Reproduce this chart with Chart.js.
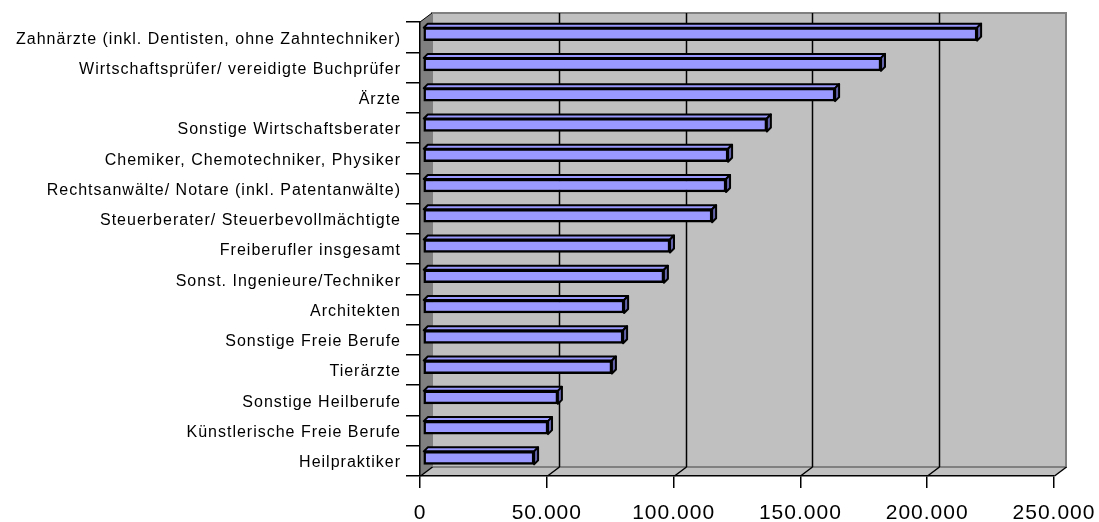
<!DOCTYPE html>
<html>
<head>
<meta charset="utf-8">
<script src="https://cdn.jsdelivr.net/npm/chart.js@4/dist/chart.umd.min.js"></script>
<style>
  html, body { margin: 0; padding: 0; background: #fff; }
  #wrap { width: 1099px; height: 522px; position: relative; }
</style>
</head>
<body>
<div id="wrap"><canvas id="chart"></canvas></div>
<script>
const categories = [
  "Zahnärzte (inkl. Dentisten, ohne Zahntechniker)",
  "Wirtschaftsprüfer/ vereidigte Buchprüfer",
  "Ärzte",
  "Sonstige Wirtschaftsberater",
  "Chemiker, Chemotechniker, Physiker",
  "Rechtsanwälte/ Notare (inkl. Patentanwälte)",
  "Steuerberater/ Steuerbevollmächtigte",
  "Freiberufler insgesamt",
  "Sonst. Ingenieure/Techniker",
  "Architekten",
  "Sonstige Freie Berufe",
  "Tierärzte",
  "Sonstige Heilberufe",
  "Künstlerische Freie Berufe",
  "Heilpraktiker"
];
const values = [
  218500, 180600, 162500, 135600, 120300, 119500, 114000, 97400,
  95000, 79300, 78900, 74500, 53200, 49300, 43800
];
const tickValues = [0, 50000, 100000, 150000, 200000, 250000];

// 3D look: back wall offset and bar depth
const DX = 12, DY = 9;
const BAR_DX = 4, BAR_DY = 4;
const SHIFT_X = 3, SHIFT_Y = -3;

const fmt = v => String(v).replace(/\B(?=(\d{3})+(?!\d))/g, ".");

const walls = {
  id: "walls",
  beforeDraw(chart) {
    const { ctx, chartArea: a, scales } = chart;
    ctx.letterSpacing = "1px";
    ctx.save();
    // back wall
    ctx.fillStyle = "#c0c0c0";
    ctx.fillRect(a.left + DX, a.top - DY, a.right - a.left, a.bottom - a.top);
    // floor
    ctx.beginPath();
    ctx.moveTo(a.left, a.bottom);
    ctx.lineTo(a.left + DX, a.bottom - DY);
    ctx.lineTo(a.right + DX, a.bottom - DY);
    ctx.lineTo(a.right, a.bottom);
    ctx.closePath();
    ctx.fillStyle = "#c0c0c0";
    ctx.fill();
    ctx.strokeStyle = "#808080";
    ctx.lineWidth = 1;
    ctx.beginPath();
    ctx.moveTo(a.left + DX, a.bottom - DY);
    ctx.lineTo(a.right + DX, a.bottom - DY);
    ctx.stroke();
    // left side wall
    ctx.beginPath();
    ctx.moveTo(a.left, a.top);
    ctx.lineTo(a.left + DX, a.top - DY);
    ctx.lineTo(a.left + DX, a.bottom - DY);
    ctx.lineTo(a.left, a.bottom);
    ctx.closePath();
    ctx.fillStyle = "#808080";
    ctx.fill();
    // back wall border
    ctx.strokeStyle = "#808080";
    ctx.lineWidth = 2;
    ctx.strokeRect(a.left + DX, a.top - DY, a.right - a.left, a.bottom - a.top);
    // gridlines on the back wall + floor
    const x = scales.x;
    ctx.strokeStyle = "#000";
    ctx.lineWidth = 1.5;
    tickValues.forEach(v => {
      const px = Math.round(x.getPixelForValue(v)) + 0.5;
      ctx.beginPath();
      if (v > 0 && v < 250000) {
        ctx.moveTo(px + DX, a.top - DY);
        ctx.lineTo(px + DX, a.bottom - DY);
      }
      ctx.moveTo(px + DX, a.bottom - DY);
      ctx.lineTo(px, a.bottom);
      ctx.stroke();
    });
    // top-left edge
    ctx.lineWidth = 1;
    ctx.beginPath();
    ctx.moveTo(a.left, a.top);
    ctx.lineTo(a.left + DX, a.top - DY);
    ctx.stroke();
    ctx.restore();
  },
  beforeDatasetsDraw(chart) {
    chart.ctx.save();
    chart.ctx.translate(SHIFT_X, SHIFT_Y);
  },
  afterDatasetsDraw(chart) {
    const ctx = chart.ctx;
    chart.getDatasetMeta(0).data.forEach(bar => {
      const { x, y, base, height } = bar.getProps(["x", "y", "base", "height"], true);
      const y0 = y - height / 2, y1 = y + height / 2;
      ctx.lineWidth = 2;
      ctx.lineJoin = "round";
      ctx.strokeStyle = "#000";
      // top face
      ctx.beginPath();
      ctx.moveTo(base, y0);
      ctx.lineTo(base + BAR_DX, y0 - BAR_DY);
      ctx.lineTo(x + BAR_DX, y0 - BAR_DY);
      ctx.lineTo(x, y0);
      ctx.closePath();
      ctx.fillStyle = "#9999ff";
      ctx.fill();
      ctx.stroke();
      // side face
      ctx.beginPath();
      ctx.moveTo(x, y0);
      ctx.lineTo(x + BAR_DX, y0 - BAR_DY);
      ctx.lineTo(x + BAR_DX, y1 - BAR_DY);
      ctx.lineTo(x, y1);
      ctx.closePath();
      ctx.fillStyle = "#6464aa";
      ctx.fill();
      ctx.stroke();
    });
    ctx.restore();
  }
};

new Chart(document.getElementById("chart"), {
  type: "bar",
  data: {
    labels: categories,
    datasets: [{
      data: values,
      backgroundColor: "#9999ff",
      borderColor: "#000",
      borderWidth: 2.5,
      borderSkipped: false,
      barThickness: 13
    }]
  },
  options: {
    indexAxis: "y",
    responsive: true,
    maintainAspectRatio: false,
    animation: false,
    layout: { padding: { top: 22, right: 45, left: 0, bottom: 0 } },
    plugins: { legend: { display: false }, tooltip: { enabled: false } },
    scales: {
      x: {
        min: 0,
        max: 250000,
        afterFit: s => { s.height = 46; s.paddingLeft = 0; s.paddingRight = 0; },
        afterBuildTicks: s => { s.ticks = tickValues.map(v => ({ value: v })); },
        grid: { drawOnChartArea: false, color: "#000", lineWidth: 1.5, tickLength: 12 },
        border: { color: "#000", width: 1.5 },
        ticks: {
          color: "#000",
          padding: 13,
          font: { family: "Arial, 'Liberation Sans', sans-serif", size: 21 },
          callback: v => fmt(v),
          maxRotation: 0
        }
      },
      y: {
        afterFit: s => { s.width = 420; s.paddingTop = 0; s.paddingBottom = 0; },
        grid: { drawOnChartArea: false, color: "#000", lineWidth: 1.5, tickLength: 14 },
        border: { color: "#000", width: 1.5 },
        ticks: {
          color: "#000",
          padding: 5,
          labelOffset: 2,
          autoSkip: false,
          font: { family: "Arial, 'Liberation Sans', sans-serif", size: 16 }
        }
      }
    }
  },
  plugins: [walls]
});
</script>
</body>
</html>
